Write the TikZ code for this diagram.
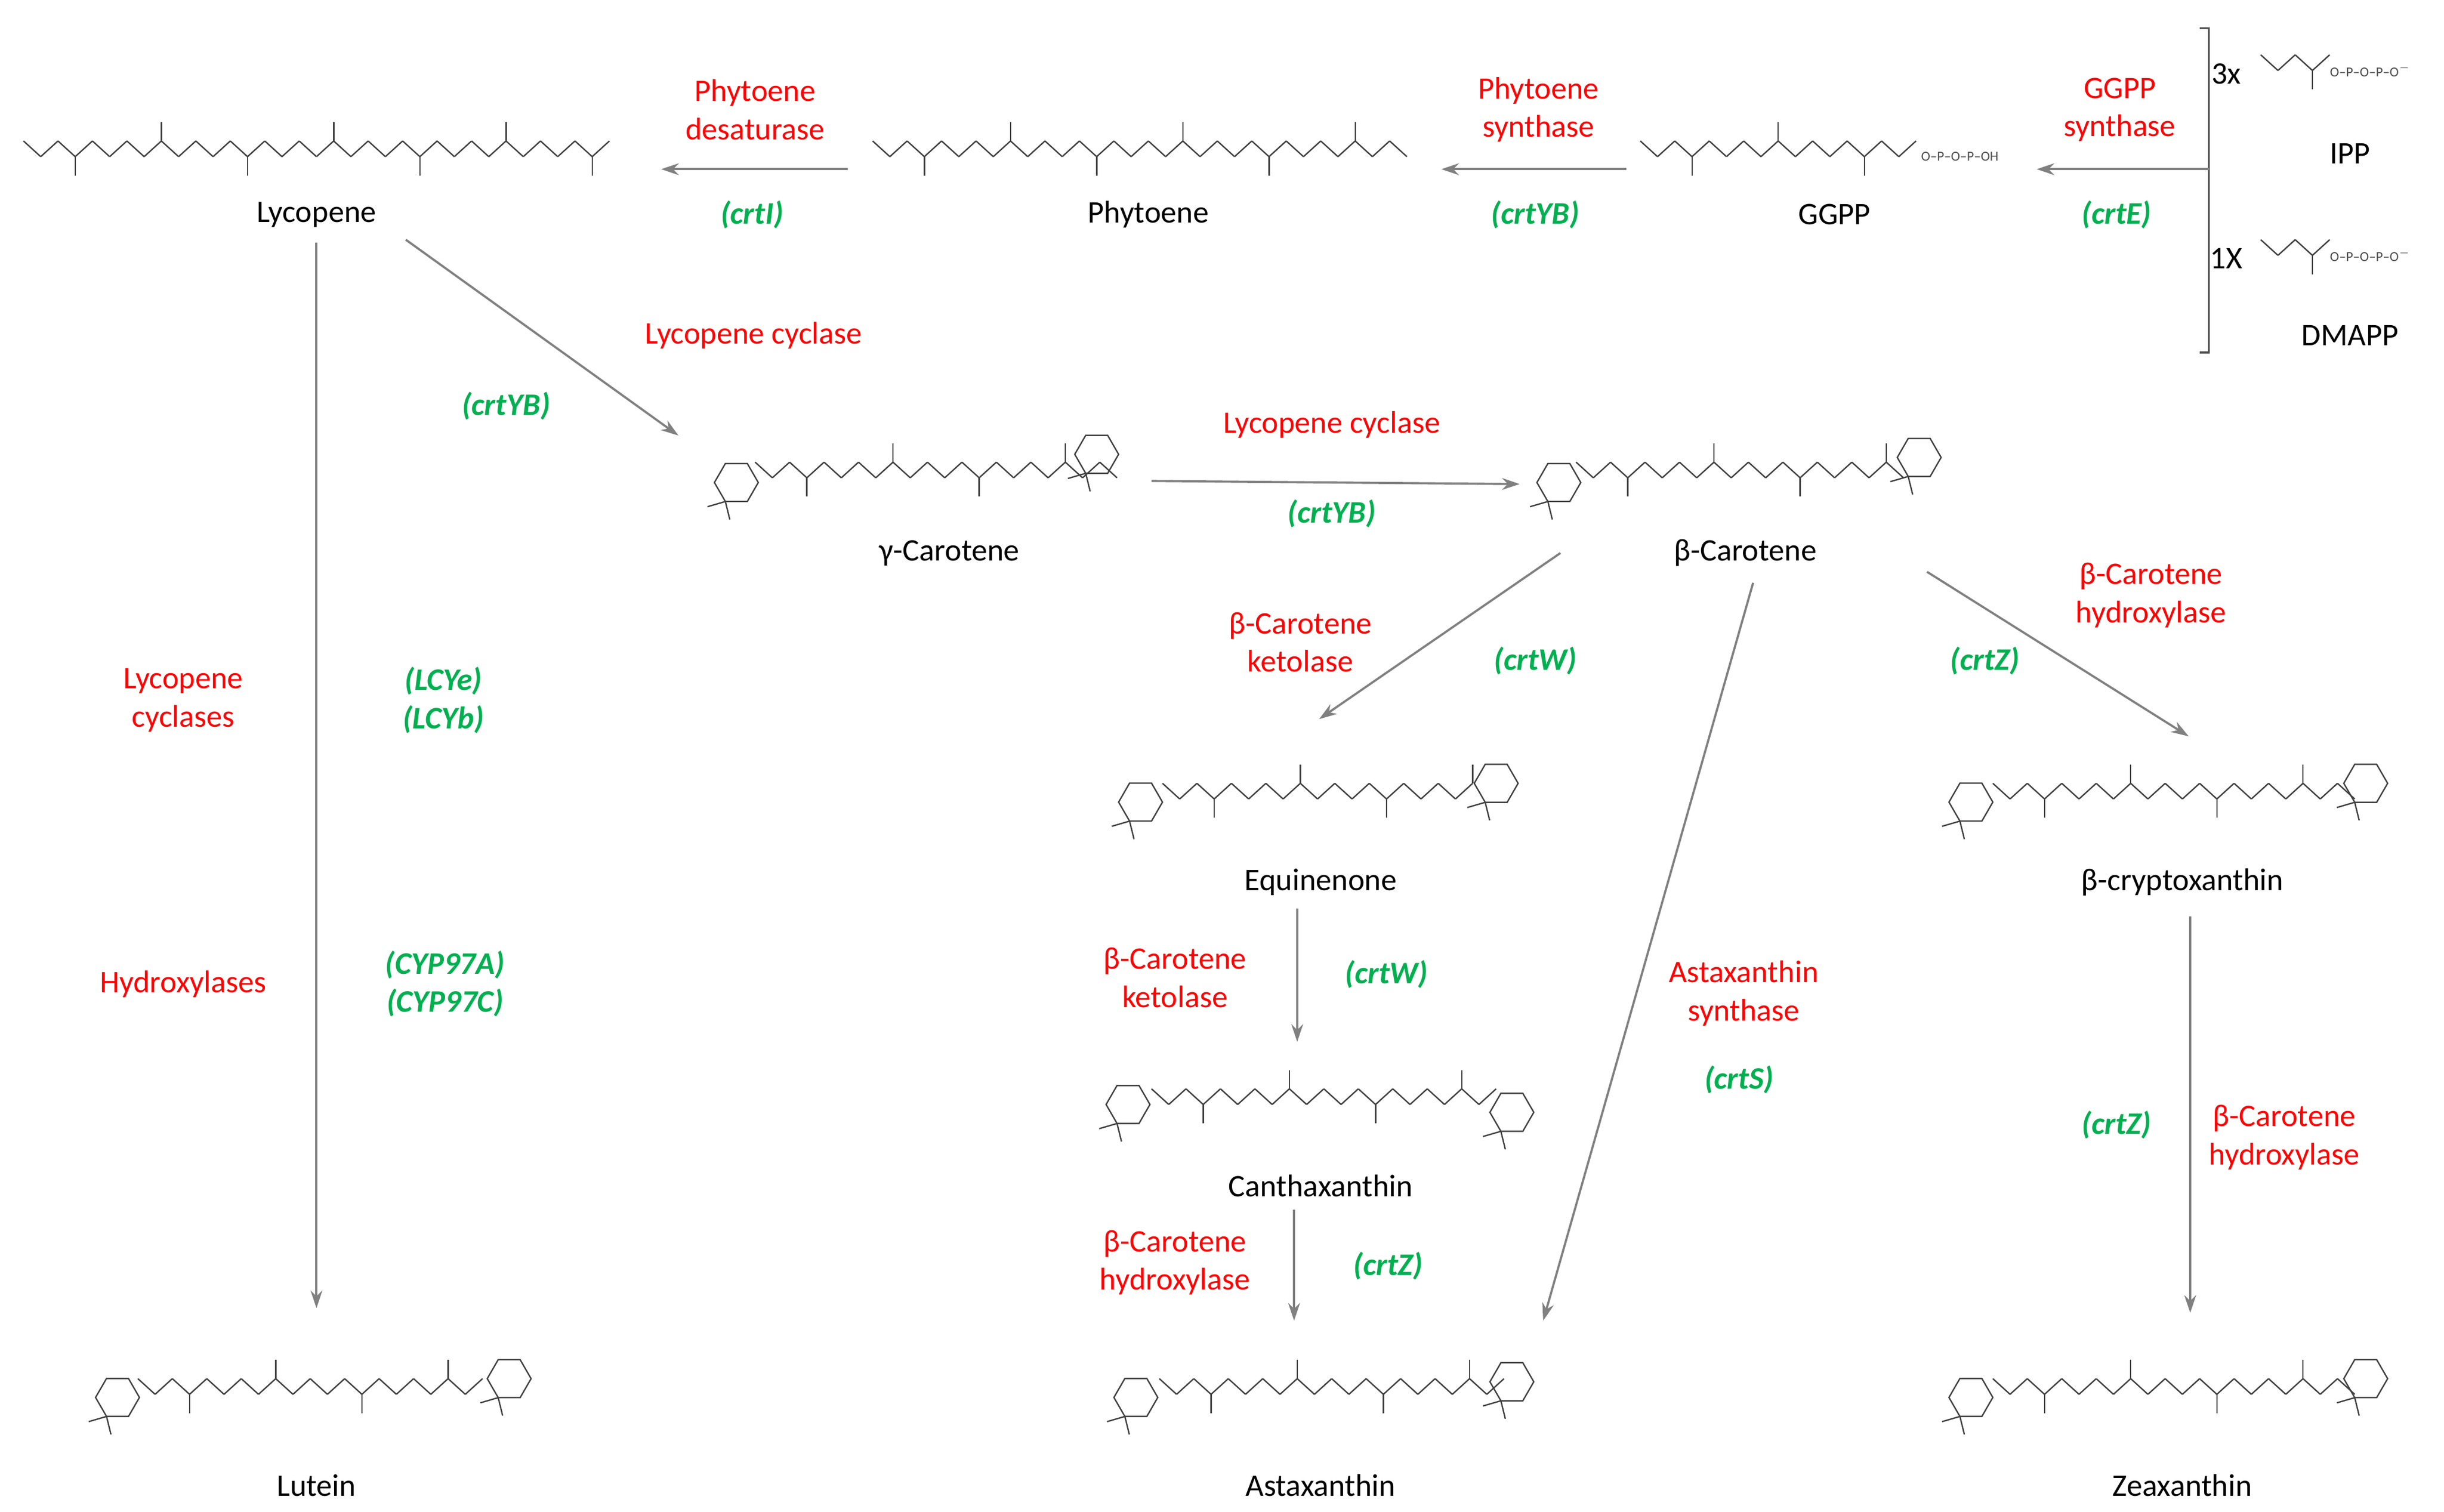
\documentclass[tikz,border=0pt]{standalone}
\usepackage{fontspec}
\setmainfont{Carlito}
\usetikzlibrary{arrows.meta}
\definecolor{rd}{HTML}{FF0000}
\definecolor{gr}{HTML}{00B050}
\definecolor{ar}{HTML}{808080}
\tikzset{
 lab/.style={font=\fontsize{16}{19.5}\selectfont,align=center,text=black},
 red/.style={lab,text=rd},
 grn/.style={lab,text=gr,font=\fontsize{16}{19.5}\selectfont\bfseries\itshape},
 arr/.style={draw=ar,line width=1.1pt,-{Stealth[length=9pt,width=6pt]}},
 mol/.style={draw=black!75,line width=0.7pt},
 tiny/.style={font=\fontsize{7}{8}\selectfont,text=black!70,inner sep=0pt,anchor=west}
}
\newcommand\zz[3]{\pgfmathtruncatemacro\N{(#2-#1)/11-1}%
\foreach \i in {0,...,\N}{\pgfmathsetmacro\xa{#1+\i*11}\pgfmathsetmacro\xb{\xa+11}%
\pgfmathsetmacro\ya{#3+(mod(\i,2)==0?-5:5)}\pgfmathsetmacro\yb{#3+(mod(\i,2)==0?5:-5)}%
\draw[mol] (\xa,\ya)--(\xb,\yb);%
\pgfmathtruncatemacro\m{mod(\i,5)}%
\ifnum\m=2 \draw[mol] (\xb,\yb)--(\xb,{\yb+(\yb>#3?12:-12)});\fi}}
\newcommand\rng[2]{\draw[mol] (#1,#2) +(0:14)--+(60:14)--+(120:14)--+(180:14)--+(240:14)--+(300:14)--cycle;
\draw[mol] (#1,#2)+(120:14)--+(100:24) (#1,#2)+(120:14)--+(140:24);}
\begin{document}
\begin{tikzpicture}[x=0.02809cm,y=-0.02809cm]
\useasboundingbox (0,0) rectangle (1560,965);
% molecules
\zz{15}{395}{95}
\zz{557}{900}{95}
\zz{1047}{1225}{95}\node[tiny] at (1226,100) {O–P–O–P–OH};
\zz{1443}{1487}{40}\node[tiny] at (1487,45) {O–P–O–P–O$^-$};
\zz{1443}{1487}{158}\node[tiny] at (1487,163) {O–P–O–P–O$^-$};
\zz{482}{715}{300}\rng{470}{308}\rng{700}{290}
\zz{1006}{1218}{300}\rng{995}{308}\rng{1225}{292}
\zz{742}{950}{505}\rng{728}{512}\rng{955}{500}
\zz{735}{960}{700}\rng{720}{705}\rng{965}{710}
\zz{740}{960}{885}\rng{725}{892}\rng{965}{882}
\zz{1272}{1505}{505}\rng{1258}{512}\rng{1510}{500}
\zz{1272}{1505}{885}\rng{1258}{892}\rng{1510}{880}
\zz{88}{318}{885}\rng{75}{892}\rng{325}{880}
% bracket
\draw[draw=black!70,line width=1pt] (1404,18)--(1410,18)--(1410,225)--(1404,225);
\draw[ar,line width=1.1pt] (1410,108)--(1403,108);
% labels
\node[lab] (lyc) at (202,137) {Lycopene};
\node[lab] (phy) at (733,137) {Phytoene};
\node[lab] (ggpp) at (1171,137) {GGPP};
\node[lab] (ipp) at (1500,98) {IPP};
\node[lab] (dma) at (1500,214) {DMAPP};
\node[lab] (n3) at (1421,47) {3x};
\node[lab] (n1) at (1421,165) {1X};
\node[lab] (gam) at (606,353) {γ-Carotene};
\node[lab] (bc) at (1114,353) {β-Carotene};
\node[lab] (eq) at (843,563) {Equinenone};
\node[lab] (can) at (843,757) {Canthaxanthin};
\node[lab] (ast) at (843,948) {Astaxanthin};
\node[lab] (bcx) at (1393,563) {β-cryptoxanthin};
\node[lab] (zea) at (1393,948) {Zeaxanthin};
\node[lab] (lut) at (202,948) {Lutein};
% arrows
\coordinate (a1) at (541,108); \coordinate (a2) at (422,108);
\coordinate (b1) at (1038,108); \coordinate (b2) at (920,108);
\coordinate (c1) at (1403,108); \coordinate (c2) at (1300,108);
\coordinate (d1) at (259,153); \coordinate (d2) at (433,278);
\coordinate (e1) at (202,155); \coordinate (e2) at (202,835);
\coordinate (f1) at (735,307); \coordinate (f2) at (970,309);
\coordinate (g1) at (996,353); \coordinate (g2) at (842,459);
\coordinate (h1) at (1119,372); \coordinate (h2) at (985,843);
\coordinate (i1) at (1230,365); \coordinate (i2) at (1397,470);
\coordinate (j1) at (828,580); \coordinate (j2) at (828,665);
\coordinate (k1) at (826,772); \coordinate (k2) at (826,843);
\coordinate (l1) at (1398,585); \coordinate (l2) at (1398,838);
\foreach \p in {a,b,c,d,e,f,g,h,i,j,k,l}{\draw[arr] (\p1)--(\p2);}
% enzyme labels
\node[red] (t1) at (482,70) {Phytoene\\desaturase}; \node[grn] (u1) at (480,137) {(crtI)};
\node[red] (t2) at (982,70) {Phytoene\\synthase}; \node[grn] (u2) at (980,137) {(crtYB)};
\node[red] (t3) at (1353,70) {GGPP\\synthase}; \node[grn] (u3) at (1351,137) {(crtE)};
\node[red] (t4) at (481,214) {Lycopene cyclase}; \node[grn] (u4) at (323,259) {(crtYB)};
\node[red] (t5) at (117,447) {Lycopene\\cyclases}; \node[grn] (u5) at (283,447) {(LCYe)\\(LCYb)};
\node[red] (t6) at (117,628) {Hydroxylases}; \node[grn] (u6) at (284,628) {(CYP97A)\\(CYP97C)};
\node[red] (t7) at (850,271) {Lycopene cyclase}; \node[grn] (u7) at (850,328) {(crtYB)};
\node[red] (t8) at (830,410) {β-Carotene\\ketolase}; \node[grn] (u8) at (980,422) {(crtW)};
\node[red] (t9) at (1113,634) {Astaxanthin\\synthase}; \node[grn] (u9) at (1110,689) {(crtS)};
\node[red] (t10) at (1373,380) {β-Carotene\\hydroxylase}; \node[grn] (u10) at (1267,422) {(crtZ)};
\node[red] (t11) at (750,624) {β-Carotene\\ketolase}; \node[grn] (u11) at (885,622) {(crtW)};
\node[red] (t12) at (750,806) {β-Carotene\\hydroxylase}; \node[grn] (u12) at (886,808) {(crtZ)};
\node[red] (t13) at (1458,726) {β-Carotene\\hydroxylase}; \node[grn] (u13) at (1351,718) {(crtZ)};
\end{tikzpicture}
\end{document}
